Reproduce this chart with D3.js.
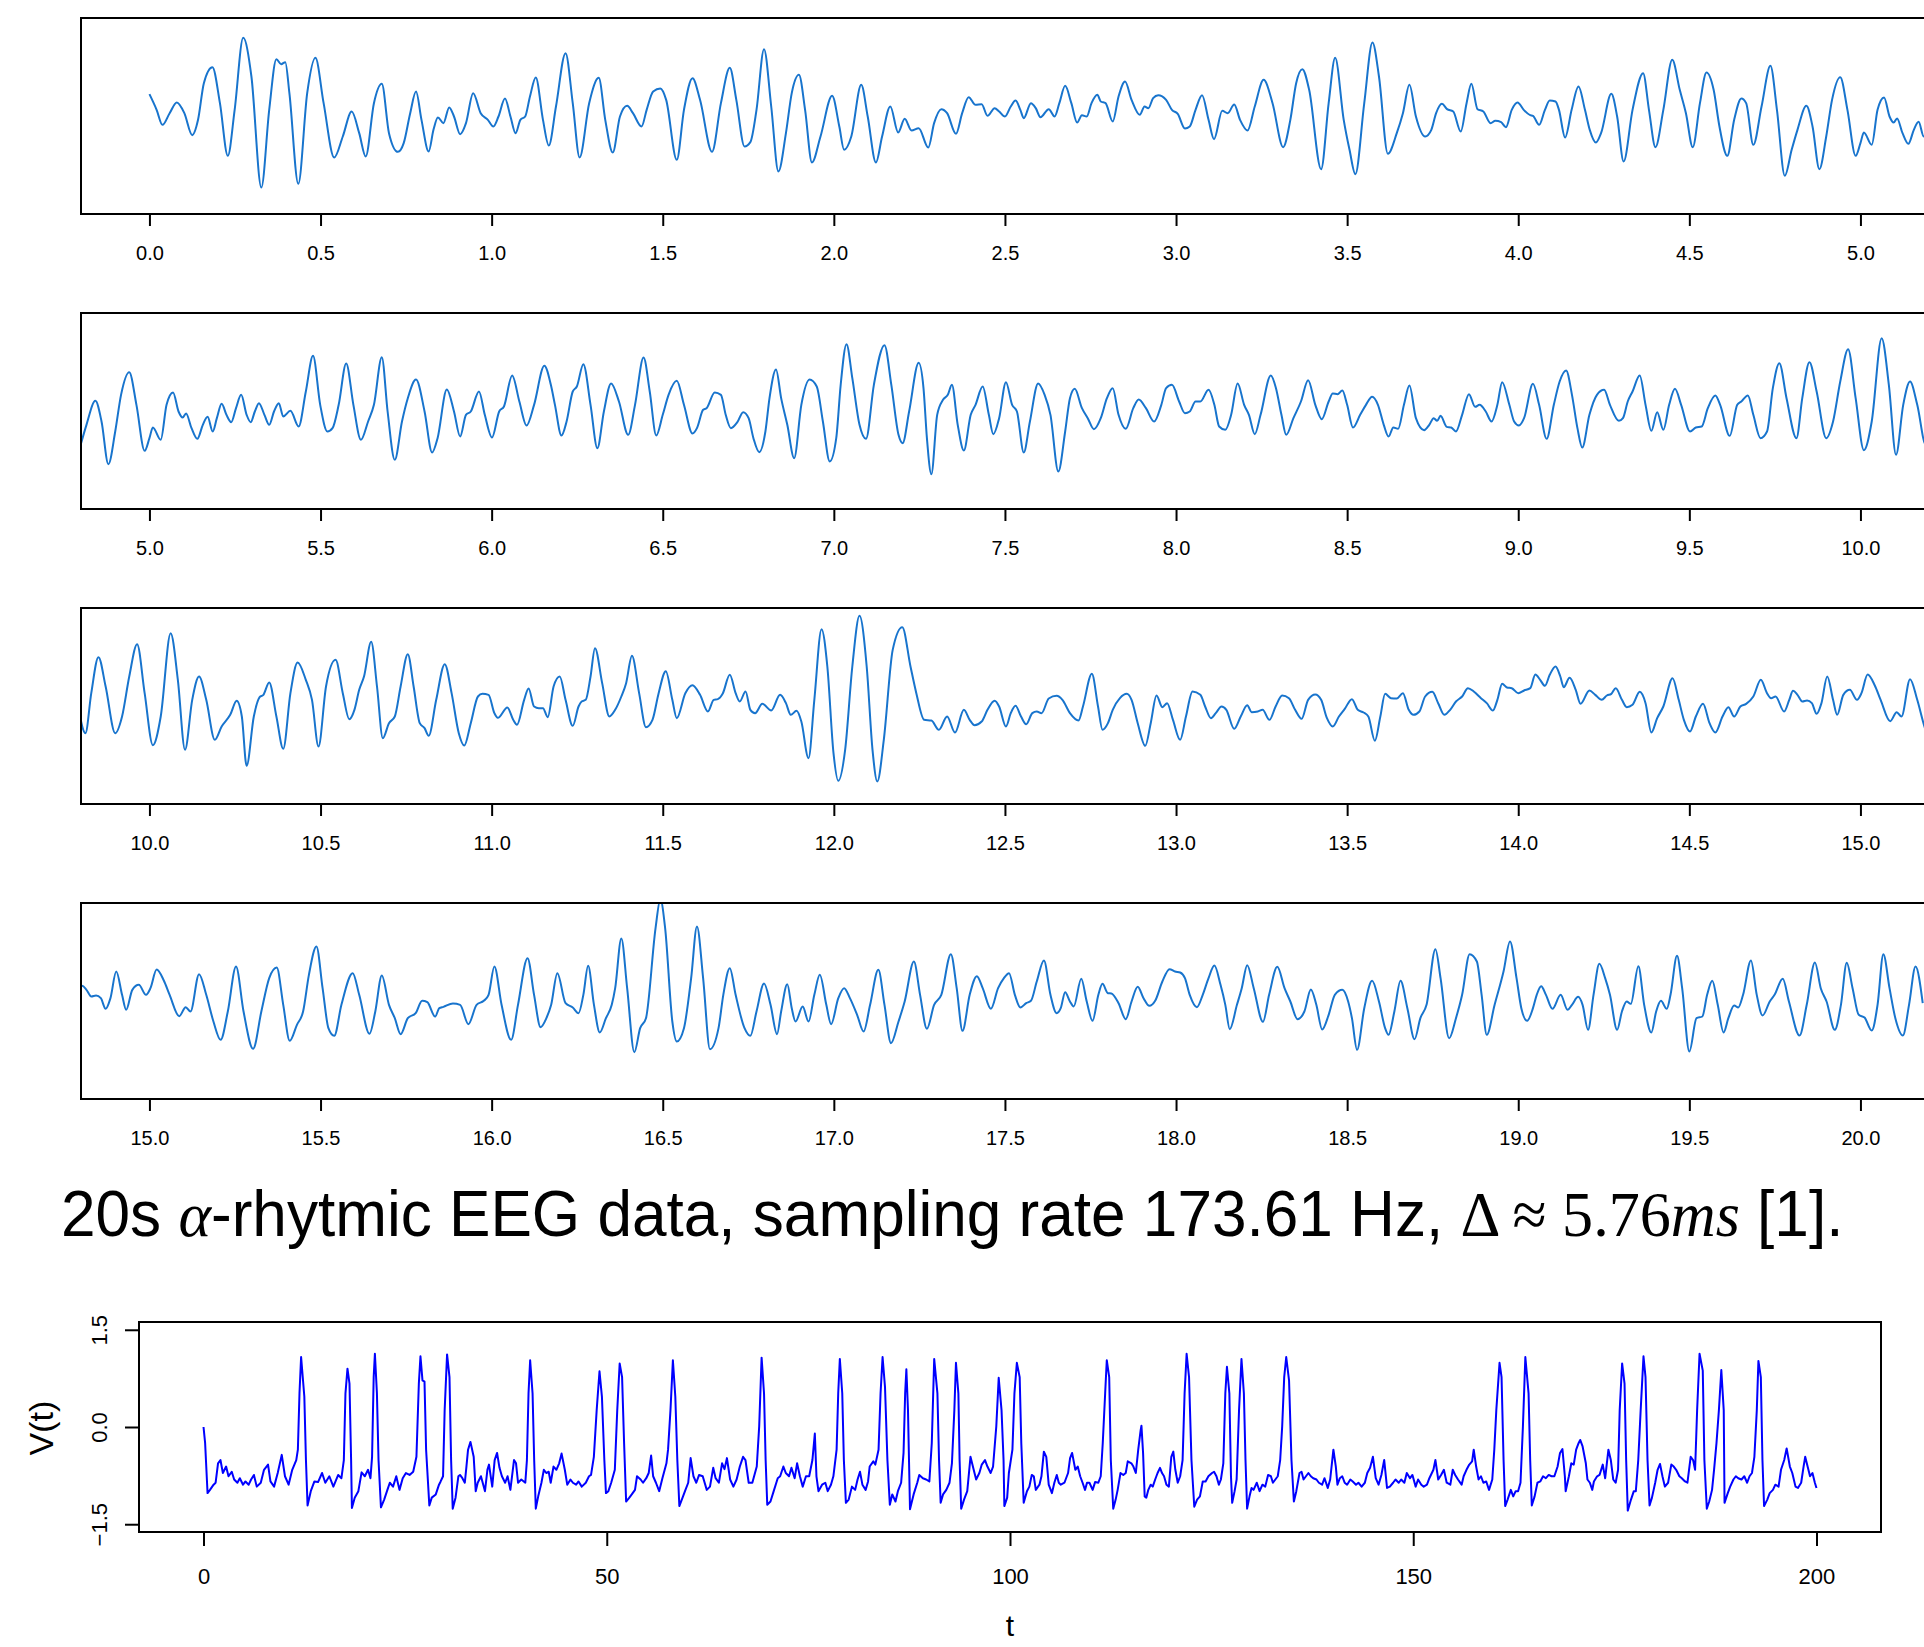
<!DOCTYPE html>
<html>
<head>
<meta charset="utf-8">
<script src="https://cdn.jsdelivr.net/npm/d3@7/dist/d3.min.js"></script>
<style>
  body { margin: 0; background: #ffffff; }
  svg { display: block; }
</style>
</head>
<body>
<svg id="svg"></svg>
<script>

// EEG alpha rhythm: [time in s, amplitude in arbitrary units]
let eegSeg1 = [[0,65],[0.021,18],[0.038,-27],[0.059,8],[0.080,40],[0.102,8],[0.125,-58],[0.142,-12],[0.159,98],[0.184,146],[0.206,38],[0.229,-120],[0.249,18],[0.274,234],[0.298,118],[0.327,-215],[0.350,18],[0.371,170],[0.385,155],[0.397,161],[0.409,68],[0.435,-204],[0.461,68],[0.485,174],[0.509,38],[0.540,-125],[0.565,-62],[0.591,13],[0.613,-52],[0.632,-122],[0.656,38],[0.679,96],[0.700,-52],[0.726,-108],[0.743,-82],[0.762,8],[0.779,73],[0.795,-12],[0.816,-107],[0.830,-42],[0.843,-5],[0.859,-22],[0.876,25],[0.890,-2],[0.908,-55],[0.925,-22],[0.946,68],[0.968,8],[0.989,-12],[1.005,-32],[1.020,-2],[1.039,52],[1.055,-2],[1.070,-52],[1.084,-12],[1.098,-2],[1.112,58],[1.129,115],[1.150,-12],[1.167,-89],[1.188,28],[1.216,188],[1.237,38],[1.257,-125],[1.285,38],[1.313,114],[1.332,-12],[1.354,-110],[1.375,-2],[1.396,30],[1.413,8],[1.438,-32],[1.453,18],[1.472,73],[1.493,82],[1.510,48],[1.541,-132],[1.562,18],[1.587,113],[1.609,48],[1.644,-108],[1.670,38],[1.696,144],[1.715,48],[1.739,-92],[1.756,-79],[1.774,18],[1.796,200],[1.817,28],[1.838,-167],[1.860,-52],[1.877,68],[1.898,123],[1.916,18],[1.936,-140],[1.961,-62],[1.995,60],[2.016,-32],[2.030,-102],[2.051,-62],[2.080,93],[2.099,-2],[2.123,-140],[2.141,-62],[2.165,28],[2.188,-50],[2.207,-9],[2.227,-44],[2.248,-37],[2.276,-95],[2.293,-22],[2.314,20],[2.331,8],[2.357,-54],[2.375,8],[2.394,56],[2.414,33],[2.432,35],[2.449,0],[2.470,23],
  [2.483,13],[2.500,-2],[2.517,28],[2.531,46],[2.545,18],[2.555,-7],[2.576,38],[2.590,23],[2.604,-4],[2.628,20],[2.645,-2],[2.659,38],[2.676,90],[2.694,38],[2.711,-20],[2.725,2],[2.739,-2],[2.753,38],[2.770,63],[2.780,43],[2.794,38],[2.815,-17],[2.832,58],[2.851,103],[2.870,48],[2.894,3],[2.908,28],[2.919,23],[2.933,53],[2.948,62],[2.971,48],[2.988,18],[3.005,6],[3.026,-38],[3.040,-32],[3.057,18],[3.076,62],[3.095,-12],[3.111,-70],[3.135,15],[3.151,8],[3.170,34],[3.187,-12],[3.209,-44],[3.230,28],[3.256,108],[3.282,38],[3.313,-94],[3.334,-12],[3.351,98],[3.369,140],[3.389,78],[3.424,-160],[3.446,38],[3.465,174],[3.490,-12],[3.507,-102],[3.524,-175],[3.550,38],[3.574,220],[3.593,118],[3.619,-114],[3.645,-52],[3.663,8],[3.682,93],[3.701,-2],[3.728,-62],[3.746,-42],[3.760,8],[3.777,36],[3.792,20],[3.810,13],[3.832,-47],[3.849,38],[3.863,96],[3.881,20],[3.898,13],[3.919,-22],[3.933,-15],[3.950,-19],[3.964,-34],[3.981,18],[3.998,40],[4.016,18],[4.035,2],[4.043,0],[4.061,-27],[4.078,18],[4.092,46],[4.109,43],[4.119,18],[4.137,-65],[4.156,18],[4.176,88],[4.195,18],[4.209,-42],[4.227,-80],[4.242,-52],[4.272,66],[4.289,-2],[4.308,-137],[4.334,18],[4.365,128],[4.382,18],[4.401,-94],[4.424,18],[4.450,168],[4.472,78],[4.490,8],[4.510,-94],[4.531,38],[4.550,130],[4.571,78],[4.588,-32],[4.611,-120],[4.631,-12],[4.652,52],[4.666,38],[4.687,-87],[4.711,28],[4.737,150],[4.756,18],[4.779,-180]];

let eegSeg2 = [[4.799,-102],[4.816,-42],[4.842,30],[4.860,-32],[4.880,-160],[4.900,-62],[4.917,48],[4.941,116],[4.962,18],[4.986,-120],[5.000,-82],[5.010,-50],[5.033,-87],[5.050,18],[5.069,55],[5.085,-2],[5.097,-20],[5.107,-8],[5.123,-52],[5.140,-84],[5.156,-42],[5.170,-18],[5.185,-62],[5.197,-22],[5.211,21],[5.225,-12],[5.239,-34],[5.253,8],[5.268,48],[5.284,-12],[5.296,-34],[5.308,-2],[5.320,23],[5.336,-12],[5.350,-42],[5.364,-2],[5.378,23],[5.391,-17],[5.412,0],[5.436,-47],[5.457,58],[5.478,165],[5.499,18],[5.520,-62],[5.535,-52],[5.553,18],[5.575,142],[5.596,18],[5.618,-87],[5.639,-32],[5.656,18],[5.679,161],[5.696,-2],[5.717,-147],[5.738,-32],[5.755,38],[5.779,94],[5.804,-2],[5.826,-125],[5.842,-82],[5.869,64],[5.890,-2],[5.908,-77],[5.925,-12],[5.939,-2],[5.963,58],[5.980,-12],[6.001,-80],[6.022,-2],[6.036,13],[6.060,106],[6.081,28],[6.102,-44],[6.124,18],[6.154,135],[6.173,78],[6.185,18],[6.204,-74],[6.219,-32],[6.237,58],[6.249,73],[6.268,140],[6.289,18],[6.309,-112],[6.328,-2],[6.349,82],[6.372,28],[6.399,-72],[6.419,18],[6.444,160],[6.462,58],[6.481,-74],[6.500,-12],[6.517,48],[6.541,90],[6.562,18],[6.587,-68],[6.600,-52],[6.618,3],[6.628,8],[6.652,55],[6.670,48],[6.684,-12],[6.699,-52],[6.718,-34],[6.735,-4],[6.751,-22],[6.765,-82],[6.782,-124],[6.800,-62],[6.812,38],[6.831,124],[6.846,38],[6.864,-42],[6.884,-142],[6.905,18],[6.929,94],[6.950,73],[6.968,-32],[6.988,-152],[7.007,-82],[7.020,78],[7.037,200],[7.054,98],[7.075,-42],[7.094,-84],[7.117,78],[7.148,197],[7.168,78],[7.189,-72],[7.201,-97],[7.220,-2],[7.248,144],[7.262,68],[7.272,-82],[7.285,-190],[7.302,-12],[7.319,33],[7.333,48],[7.345,78],[7.362,-42],[7.380,-119],[7.400,-12],[7.414,18],[7.435,73],[7.453,-12],[7.466,-70],
  [7.483,-22],[7.503,86],[7.521,18],[7.535,-2],[7.555,-125],[7.573,-32],[7.597,82],[7.616,48],[7.633,-12],[7.656,-182],[7.676,-62],[7.690,38],[7.704,66],[7.725,8],[7.742,-22],[7.760,-55],[7.780,-22],[7.798,38],[7.815,68],[7.832,-12],[7.853,-54],[7.875,8],[7.891,34],[7.912,8],[7.936,-32],[7.957,18],[7.971,68],[7.988,78],[8.009,28],[8.026,-7],[8.040,-2],[8.057,28],[8.071,28],[8.095,63],[8.112,18],[8.126,-47],[8.144,-57],[8.161,-12],[8.180,82],[8.199,18],[8.213,-12],[8.230,-70],[8.247,-12],[8.277,106],[8.292,68],[8.308,-12],[8.322,-72],[8.343,-22],[8.365,28],[8.386,92],[8.407,18],[8.426,-25],[8.446,28],[8.458,52],[8.472,50],[8.486,61],[8.500,18],[8.517,-50],[8.538,-12],[8.555,18],[8.573,42],[8.590,18],[8.607,-42],[8.621,-77],[8.635,-50],[8.649,-54],[8.666,18],[8.682,76],[8.701,-22],[8.725,-58],[8.740,-42],[8.753,-22],[8.763,-30],[8.773,-15],[8.791,-48],[8.804,-50],[8.818,-62],[8.836,-12],[8.856,50],[8.874,12],[8.887,18],[8.905,-2],[8.922,-32],[8.939,18],[8.953,86],[8.974,18],[8.988,-32],[9.002,-44],[9.017,-22],[9.043,81],[9.061,18],[9.083,-84],[9.104,18],[9.121,88],[9.140,121],[9.157,48],[9.173,-52],[9.187,-110],[9.208,-12],[9.230,48],[9.251,63],[9.268,18],[9.294,-30],[9.306,-22],[9.320,28],[9.334,58],[9.355,106],[9.372,18],[9.389,-60],[9.406,-4],[9.424,-57],[9.441,18],[9.458,66],[9.476,18],[9.502,-62],[9.519,-50],[9.536,-47],[9.554,8],[9.576,46],[9.590,18],[9.618,-75],[9.640,18],[9.652,28],[9.671,46],[9.687,-12],[9.708,-82],[9.727,-62],[9.744,68],[9.763,143],[9.784,38]];

let eegSeg3 = [[9.813,-82],[9.830,38],[9.851,146],[9.872,58],[9.900,-82],[9.920,-32],[9.941,88],[9.964,185],[9.986,38],[10.010,-118],[10.033,-32],[10.062,218],[10.083,78],[10.104,-132],[10.125,18],[10.145,88],[10.166,18],[10.191,-102],[10.211,-62],[10.236,-27],[10.255,15],[10.270,-32],[10.284,-180],[10.305,-32],[10.322,26],[10.333,33],[10.350,70],[10.371,-32],[10.391,-129],[10.412,38],[10.433,130],[10.457,78],[10.475,18],[10.494,-122],[10.516,58],[10.544,138],[10.565,38],[10.584,-40],[10.599,-12],[10.613,48],[10.627,88],[10.648,192],[10.665,58],[10.682,-97],[10.700,-52],[10.717,-32],[10.734,58],[10.755,155],[10.772,58],[10.790,-52],[10.804,-67],[10.816,-90],[10.838,18],[10.863,125],[10.883,38],[10.904,-82],[10.920,-119],[10.939,-52],[10.960,28],[10.973,36],[10.991,33],[11.008,-22],[11.018,-36],[11.046,-5],[11.063,-42],[11.074,-57],[11.095,18],[11.108,52],[11.124,-2],[11.138,-7],[11.150,-7],[11.164,-34],[11.181,58],[11.199,88],[11.216,18],[11.237,-60],[11.254,-2],[11.263,13],[11.275,18],[11.289,88],[11.302,173],[11.323,68],[11.344,-32],[11.361,-12],[11.379,28],[11.393,68],[11.410,150],[11.431,38],[11.451,-64],[11.470,-42],[11.488,38],[11.509,104],[11.528,18],[11.541,-37],[11.566,38],[11.587,62],[11.609,33],[11.632,-17],[11.649,18],[11.661,20],[11.675,36],[11.696,93],[11.713,38],[11.725,13],[11.742,43],[11.756,-12],[11.770,-22],[11.791,6],[11.817,-14],[11.843,33],[11.860,8],[11.874,-27],[11.891,-15],[11.905,-47],[11.926,-157],[11.943,18],[11.964,230],[11.981,118],[11.999,-142],[12.013,-225],[12.033,-132],[12.054,118],[12.075,270],[12.096,118],[12.113,-132],[12.127,-227],[12.146,-102],[12.172,168],[12.200,236],[12.224,118],[12.241,38],[12.264,-42],[12.285,-44],[12.307,-72],[12.331,-32],[12.354,-80],[12.380,-12],[12.397,-42],[12.411,-58],[12.432,-47],[12.449,-12],[12.470,15],
  [12.483,-2],[12.503,-62],[12.517,-22],[12.531,0],[12.547,-32],[12.562,-55],[12.580,-22],[12.593,-17],[12.607,-22],[12.628,22],[12.651,30],[12.668,18],[12.690,-22],[12.715,-44],[12.728,-2],[12.754,96],[12.772,-2],[12.785,-72],[12.801,-52],[12.815,-12],[12.836,23],[12.856,36],[12.870,18],[12.888,-52],[12.910,-120],[12.926,-52],[12.943,31],[12.960,-4],[12.974,8],[12.991,-42],[13.012,-102],[13.029,-32],[13.048,43],[13.071,33],[13.085,-2],[13.102,-37],[13.116,-22],[13.133,-2],[13.147,-12],[13.170,-69],[13.189,-32],[13.208,2],[13.221,-19],[13.239,-17],[13.253,-12],[13.273,-42],[13.291,-2],[13.310,31],[13.330,23],[13.348,-12],[13.367,-39],[13.386,18],[13.407,34],[13.424,18],[13.441,-37],[13.458,-62],[13.476,-32],[13.493,-9],[13.514,20],[13.531,-12],[13.548,-20],[13.562,-32],[13.581,-105],[13.597,-32],[13.611,36],[13.628,23],[13.645,22],[13.663,38],[13.680,-12],[13.694,-27],[13.711,-17],[13.728,28],[13.749,42],[13.766,8],[13.784,-27],[13.801,-12],[13.818,13],[13.836,28],[13.853,53],[13.870,43],[13.891,23],[13.908,8],[13.926,-14],[13.939,18],[13.953,66],[13.967,55],[13.981,53],[14.000,38],[14.017,46],[14.035,53],[14.050,94],[14.064,78],[14.078,60],[14.092,93],[14.109,118],[14.123,88],[14.133,56],[14.150,84],[14.168,48],[14.182,6],[14.208,46],[14.225,33],[14.244,18],[14.259,31],[14.272,36],[14.285,53],[14.303,18],[14.317,-4],[14.334,3],[14.355,42],[14.372,8],[14.389,-80],[14.406,-37],[14.424,-2],[14.451,83],[14.469,18],[14.484,-42],[14.502,-77],[14.519,-32],[14.540,6],[14.559,-52],[14.576,-80],[14.597,-32],[14.614,-4],[14.631,-32],[14.649,-2],[14.666,6],[14.687,28],[14.709,78],[14.727,38],[14.739,23],[14.752,28],[14.777,-17],[14.792,18]];

let eegSeg4 = [[14.803,45],[14.816,33],[14.830,13],[14.844,16],[14.858,8],[14.872,-24],[14.886,8],[14.903,88],[14.920,18],[14.932,-27],[14.950,33],[14.969,48],[14.990,18],[15.003,38],[15.021,94],[15.042,61],[15.059,18],[15.087,-46],[15.106,-19],[15.120,-32],[15.145,80],[15.166,18],[15.187,-62],[15.208,-117],[15.229,-32],[15.253,103],[15.275,-32],[15.303,-144],[15.327,-32],[15.350,68],[15.372,100],[15.391,-12],[15.410,-120],[15.431,-72],[15.449,-32],[15.466,78],[15.488,163],[15.506,38],[15.523,-82],[15.540,-105],[15.561,-12],[15.594,83],[15.613,18],[15.643,-99],[15.660,-32],[15.679,76],[15.700,-12],[15.717,-52],[15.734,-100],[15.755,-52],[15.778,-37],[15.797,0],[15.812,-4],[15.835,-47],[15.847,-22],[15.859,-18],[15.887,-8],[15.908,-12],[15.932,-70],[15.956,-12],[15.977,0],[15.991,18],[16.008,103],[16.029,-12],[16.057,-117],[16.077,-12],[16.105,128],[16.124,18],[16.143,-79],[16.160,-52],[16.174,-12],[16.192,83],[16.216,-7],[16.237,-20],[16.254,-37],[16.268,18],[16.282,105],[16.299,-12],[16.316,-95],[16.334,-52],[16.351,-12],[16.361,38],[16.379,187],[16.396,38],[16.417,-154],[16.434,-82],[16.451,-52],[16.479,218],[16.493,305],[16.507,218],[16.528,-62],[16.541,-122],[16.562,-82],[16.583,68],[16.600,223],[16.618,68],[16.638,-145],[16.663,-82],[16.677,18],[16.696,98],[16.713,18],[16.739,-82],[16.756,-105],[16.774,-32],[16.796,52],[16.815,-12],[16.834,-100],[16.846,-32],[16.864,50],[16.877,-22],[16.888,-62],[16.909,-17],[16.926,-62],[16.943,18],[16.959,78],[16.978,-12],[16.992,-70],[17.013,8],[17.030,38],[17.047,8],[17.068,-42],[17.087,-92],[17.106,-12],[17.130,93],[17.148,-12],[17.167,-127],[17.189,-62],[17.207,-2],[17.234,118],[17.252,18],[17.272,-84],[17.293,-12],[17.314,18],[17.342,140],[17.359,38],[17.376,-90],[17.397,18],[17.418,74],[17.435,38],[17.459,-24],[17.480,38],
  [17.497,68],[17.512,83],[17.529,18],[17.545,-20],[17.562,-7],[17.576,0],[17.593,58],[17.614,121],[17.633,18],[17.651,-37],[17.663,-22],[17.676,26],[17.690,-2],[17.701,-17],[17.723,66],[17.739,-2],[17.756,-60],[17.773,18],[17.785,51],[17.801,23],[17.811,22],[17.832,-7],[17.853,-55],[17.870,-2],[17.888,42],[17.905,8],[17.922,-15],[17.939,0],[17.960,58],[17.981,95],[17.997,88],[18.012,85],[18.026,68],[18.040,18],[18.061,-19],[18.078,18],[18.095,68],[18.112,106],[18.130,48],[18.144,-12],[18.157,-85],[18.178,-12],[18.192,38],[18.208,107],[18.227,38],[18.254,-63],[18.272,18],[18.296,102],[18.317,38],[18.334,-2],[18.355,-55],[18.375,-32],[18.394,34],[18.410,-12],[18.427,-86],[18.446,-42],[18.464,18],[18.486,33],[18.503,-2],[18.514,-52],[18.529,-147],[18.550,-22],[18.573,60],[18.593,-2],[18.611,-82],[18.621,-102],[18.638,-32],[18.656,60],[18.676,-22],[18.697,-115],[18.714,-52],[18.732,-12],[18.758,155],[18.773,68],[18.798,-112],[18.818,-52],[18.836,18],[18.858,140],[18.879,118],[18.893,18],[18.908,-102],[18.931,-12],[18.957,88],[18.976,178],[18.995,68],[19.009,-22],[19.026,-60],[19.043,-22],[19.054,18],[19.067,44],[19.081,18],[19.100,-24],[19.124,18],[19.144,-27],[19.157,-12],[19.175,12],[19.188,-12],[19.204,-87],[19.220,18],[19.237,111],[19.254,68],[19.268,18],[19.289,-87],[19.303,-32],[19.317,-2],[19.329,-9],[19.351,104],[19.368,-12],[19.389,-95],[19.403,-32],[19.417,0],[19.434,-24],[19.445,18],[19.464,135],[19.479,38],[19.500,-152],[19.521,-52],[19.538,-47],[19.552,18],[19.567,60],[19.583,-12],[19.600,-95],[19.614,-52],[19.631,-14],[19.643,-20],[19.657,18],[19.680,121],[19.697,18],[19.714,-44],[19.735,-2],[19.749,18],[19.773,66],[19.791,-2],[19.822,-104],[19.843,-12],[19.867,115],[19.884,38],[19.901,-2],[19.925,-87],[19.943,-12],[19.960,114],[19.977,38],[19.995,-42],[20.012,-50],[20.033,-89],[20.050,-12],[20.067,140],[20.085,38],[20.102,-52],[20.124,-104],[20.142,-12],[20.161,103],[20.182,-7]];

// V(t) trace of the lower plot: [t, V]
let vTrace1 = [[0,0],[0.2,-0.25],[0.5,-1.02],[0.8,-0.97],[1.25,-0.89],[1.5,-0.86],[1.8,-0.56],[2.1,-0.51],[2.4,-0.71],[2.8,-0.61],[3.1,-0.76],[3.5,-0.69],[3.8,-0.81],[4.2,-0.86],[4.5,-0.79],[4.9,-0.89],[5.2,-0.84],[5.6,-0.89],[5.9,-0.81],[6.25,-0.74],[6.6,-0.92],[7.1,-0.86],[7.5,-0.66],[8.0,-0.58],[8.3,-0.84],[8.75,-0.92],[9.2,-0.71],[9.7,-0.43],[10.1,-0.76],[10.55,-0.89],[11.0,-0.66],[11.5,-0.51],[11.7,-0.35],[11.9,0.52],[12.1,1.08],[12.5,0.47],[12.7,-0.51],[12.9,-1.21],[13.3,-0.99],[13.75,-0.84],[14.2,-0.85],[14.7,-0.71],[15.1,-0.86],[15.6,-0.76],[16.1,-0.92],[16.7,-0.74],[17.1,-0.79],[17.4,-0.51],[17.6,0.52],[17.85,0.90],[18.1,0.67],[18.3,-0.51],[18.4,-1.25],[18.75,-1.09],[19.2,-0.99],[19.6,-0.70],[20.0,-0.76],[20.4,-0.66],[20.7,-0.79],[20.9,-0.46],[21.1,0.77],[21.25,1.13],[21.5,0.52],[21.7,-0.51],[22.0,-1.24],[22.4,-1.12],[22.8,-0.97],[23.1,-0.86],[23.5,-0.92],[23.9,-0.76],[24.3,-0.97],[24.7,-0.79],[25.1,-0.71],[25.55,-0.74],[26.0,-0.69],[26.4,-0.46],[26.7,0.67],[26.9,1.09],[27.15,0.72],[27.4,0.70],[27.6,-0.35],[28.0,-1.21],[28.3,-1.09],[28.8,-1.04],[29.2,-0.89],[29.4,-0.84],[29.7,-0.76],[29.9,0.26],[30.2,1.12],[30.5,0.77],[30.7,-0.51],[30.9,-1.26],[31.25,-1.09],[31.6,-0.76],[31.8,-0.74],[32.1,-0.79],[32.4,-0.86],[32.6,-0.61],[32.8,-0.35],[33.1,-0.23],[33.5,-0.46],[33.75,-0.99],[34.0,-0.86],[34.4,-0.76],[34.9,-0.99],[35.2,-0.66],[35.4,-0.58],[35.8,-0.92],[36.1,-0.51],[36.4,-0.40],[36.7,-0.63],[37.0,-0.76],[37.4,-0.86],[37.7,-0.76],[38.05,-0.97],[38.5,-0.51],[38.75,-0.56],[39.0,-0.86],[39.4,-0.81],[39.9,-0.86],[40.1,-0.51],[40.3,0.52],[40.5,1.03],[40.8,0.52],[41.0,-0.51],[41.2,-1.26],[41.5,-1.07],[41.9,-0.86],[42.2,-0.66],[42.5,-0.71],[42.8,-0.69],[43.05,-0.86],[43.4,-0.61],[43.75,-0.66],[44.1,-0.56],[44.4,-0.41],[44.8,-0.66],[45.1,-0.89],[45.5,-0.81],[45.8,-0.86],[46.2,-0.89],[46.5,-0.84],[46.9,-0.92],[47.4,-0.86],[47.8,-0.76],[48.05,-0.74],[48.4,-0.46],[48.75,0.26],[49.1,0.86],[49.4,0.47],[49.7,-0.51],[49.9,-1.02],[50.2,-0.99],[50.55,-0.86],[51.0,-0.66],[51.3,0.26],[51.6,0.98],[51.9,0.77],[52.15,-0.25],[52.4,-1.15],[52.8,-1.09],[53.1,-1.04],[53.5,-0.97],[53.75,-0.76],[54.2,-0.81],[54.5,-0.86],[54.9,-0.79],[55.2,-0.71],[55.5,-0.44],[55.75,-0.76],[56.1,-0.86],[56.5,-0.99],[56.9,-0.79],[57.4,-0.56],[57.6,-0.35],[57.9,0.26],[58.2,1.03],[58.5,0.47],[58.75,-0.51],[59.0,-1.22],[59.4,-1.09],[59.7,-0.99],[60.1,-0.86],[60.4,-0.48],[60.75,-0.76],[61.1,-0.86],[61.45,-0.74],[61.9,-0.76],[62.4,-0.97],[62.8,-0.92],[63.2,-0.63],[63.5,-0.79],[63.9,-0.86],[64.3,-0.56],[64.6,-0.65],[64.9,-0.48],[65.3,-0.81],[65.7,-0.92],[66.1,-0.81],[66.5,-0.61],[66.9,-0.46],[67.2,-0.51],[67.6,-0.86],[68.05,-0.86],[68.6,-0.61],[68.9,0.01],[69.2,1.07],[69.5,0.52],[69.7,-0.51],[69.9,-1.20],[70.3,-1.15],[70.7,-0.99],[71.2,-0.79],[71.5,-0.76],[71.9,-0.61],[72.2,-0.71],[72.6,-0.76],[72.9,-0.63],[73.3,-0.79],[73.6,-0.56],[73.95,-0.76],[74.3,-0.92],[74.7,-0.76],[75.1,-0.76],[75.5,-0.51],[75.8,-0.10],[76.0,-0.76],[76.25,-0.99],[76.7,-0.89],[77.1,-0.86],[77.4,-0.99],[77.8,-0.89],[78.1,-0.76],[78.5,-0.35],[78.7,0.52],[78.9,1.05],[79.2,0.52],[79.4,-0.51],[79.65,-1.17],[80.0,-1.12],[80.4,-0.92],[80.8,-0.97],[81.1,-0.81],[81.4,-0.69],[81.7,-0.89],[82.1,-0.97],[82.4,-0.84],[82.6,-0.61],[83.05,-0.53],[83.3,-0.58],[83.7,-0.35],[83.95,0.52],[84.2,1.08],[84.5,0.62],[84.8,-0.51],[85.1,-1.20],[85.4,-1.04],[85.8,-1.15],[86.1,-0.99],[86.5,-0.86],[86.8,-0.40],[87.0,0.52],[87.15,0.89],[87.35,0.26],[87.6,-1.27],[88.05,-1.04],[88.5,-0.86],[88.75,-0.74],[89.2,-0.79],[89.6,-0.81],[90.0,-0.84],[90.3,-0.25],[90.6,1.05],[91.0,0.52],[91.2,-0.51],[91.4,-1.17],[91.7,-1.04],[92.1,-0.97],[92.5,-0.86],[92.8,-0.56],[93.1,0.26],[93.3,0.99],[93.6,0.52],[93.75,-0.51],[93.95,-1.26],[94.3,-1.12],[94.7,-0.99],[95.1,-0.46],[95.5,-0.66],[95.8,-0.81],[96.2,-0.71],[96.5,-0.58],[96.9,-0.51],[97.2,-0.61],[97.6,-0.71],[97.9,-0.61],[98.3,0.01],[98.6,0.76],[98.95,0.26],[99.2,-0.51],[99.3,-1.22],[99.65,-1.09]];

let vTrace2 = [[99.86,-0.71],[100.3,-0.35],[100.55,0.52],[100.85,0.99],[101.2,0.77],[101.4,-0.25],[101.7,-1.17],[102.1,-0.99],[102.4,-0.92],[102.7,-0.74],[102.95,-0.76],[103.2,-0.97],[103.65,-0.89],[103.9,-0.76],[104.2,-0.38],[104.5,-0.46],[104.8,-0.89],[105.2,-1.02],[105.5,-0.86],[105.8,-0.74],[106.05,-0.86],[106.3,-0.89],[106.75,-0.86],[107.2,-0.71],[107.45,-0.48],[107.7,-0.40],[108.1,-0.66],[108.4,-0.61],[108.7,-0.76],[109.0,-0.86],[109.3,-0.97],[109.55,-0.86],[109.85,-0.86],[110.25,-0.97],[110.55,-0.85],[110.95,-0.86],[111.25,-0.76],[111.5,-0.25],[111.8,0.52],[112.0,1.03],[112.3,0.77],[112.5,-0.51],[112.8,-1.26],[113.1,-1.12],[113.35,-0.97],[113.7,-0.71],[114.05,-0.74],[114.35,-0.71],[114.6,-0.53],[115.05,-0.56],[115.3,-0.61],[115.6,-0.71],[115.9,-0.35],[116.2,-0.05],[116.3,0.02],[116.5,-0.40],[116.7,-1.07],[116.9,-1.09],[117.15,-0.97],[117.45,-0.89],[117.7,-0.92],[118.0,-0.81],[118.3,-0.71],[118.6,-0.63],[118.85,-0.71],[119.1,-0.76],[119.4,-0.89],[119.7,-0.92],[120.0,-0.46],[120.25,-0.38],[120.5,-0.66],[120.8,-0.86],[121.1,-0.76],[121.4,-0.51],[121.65,0.52],[121.9,1.13],[122.2,0.77],[122.5,-0.51],[122.85,-1.23],[123.2,-1.12],[123.55,-1.07],[123.9,-0.84],[124.25,-0.84],[124.6,-0.76],[125.05,-0.71],[125.3,-0.69],[125.6,-0.76],[125.9,-0.89],[126.15,-0.81],[126.45,-0.56],[126.7,0.52],[126.9,0.93],[127.2,0.52],[127.4,-0.76],[127.55,-1.17],[127.85,-0.99],[128.1,-0.81],[128.4,0.26],[128.7,1.05],[129.0,0.52],[129.2,-0.51],[129.4,-1.26],[129.7,-1.07],[129.95,-0.94],[130.2,-0.97],[130.6,-0.86],[130.95,-0.99],[131.3,-0.89],[131.65,-0.92],[132.0,-0.74],[132.35,-0.76],[132.6,-0.86],[132.9,-0.81],[133.2,-0.76],[133.5,-0.51],[133.75,0.01],[134.0,0.77],[134.25,1.08],[134.6,0.72],[134.9,-0.51],[135.2,-1.15],[135.5,-0.99],[135.9,-0.71],[136.15,-0.69],[136.4,-0.81],[136.7,-0.76],[137.0,-0.71],[137.3,-0.76],[137.6,-0.79],[138.0,-0.81],[138.3,-0.86],[138.7,-0.89],[139.0,-0.79],[139.4,-0.94],[139.7,-0.81],[140.1,-0.35],[140.4,-0.61],[140.6,-0.89],[140.9,-0.79],[141.2,-0.76],[141.5,-0.86],[141.8,-0.89],[142.2,-0.81],[142.5,-0.84],[142.9,-0.89],[143.2,-0.86],[143.6,-0.92],[144.0,-0.86],[144.3,-0.71],[144.65,-0.63],[145.0,-0.46],[145.35,-0.79],[145.7,-0.89],[146.05,-0.74],[146.4,-0.51],[146.75,-0.94],[147.1,-0.92],[147.5,-0.86],[147.8,-0.81],[148.2,-0.86],[148.5,-0.81],[148.9,-0.86],[149.2,-0.71],[149.6,-0.79],[149.9,-0.74],[150.3,-0.92],[150.6,-0.81],[151.0,-0.89],[151.3,-0.92],[151.7,-0.89],[152.0,-0.79],[152.5,-0.66],[152.75,-0.51],[153.1,-0.81],[153.45,-0.74],[153.8,-0.66],[154.15,-0.86],[154.6,-0.89],[154.9,-0.66],[155.2,-0.74],[155.55,-0.81],[156.0,-0.89],[156.25,-0.76],[156.6,-0.66],[156.95,-0.58],[157.3,-0.53],[157.5,-0.35],[157.8,-0.61],[158.1,-0.81],[158.4,-0.76],[158.7,-0.86],[159.05,-0.84],[159.4,-0.97],[159.8,-0.81],[160.05,-0.35],[160.3,0.26],[160.7,0.99],[160.95,0.77],[161.2,-0.51],[161.4,-1.22],[161.7,-1.12],[162.1,-0.97],[162.4,-1.07],[162.7,-0.99],[163.0,-0.99],[163.3,-0.86],[163.6,0.01],[163.9,1.08],[164.3,0.52],[164.5,-0.51],[164.7,-1.21],[165.05,-1.07],[165.4,-0.86],[165.75,-0.84],[166.1,-0.76],[166.45,-0.79],[166.8,-0.74],[167.15,-0.76],[167.5,-0.76],[167.9,-0.61],[168.2,-0.40],[168.5,-0.34],[168.8,-0.76],[168.9,-0.99],[169.3,-0.76],[169.6,-0.56],[169.9,-0.58],[170.2,-0.35],[170.5,-0.25],[170.7,-0.20],[171.0,-0.30],[171.4,-0.56],[171.6,-0.81],[171.9,-0.86],[172.2,-0.97],[172.4,-0.84],[172.8,-0.76],[173.1,-0.74],[173.5,-0.58],[173.8,-0.79],[174.2,-0.35],[174.5,-0.51],[174.8,-0.81],[175.1,-0.86],[175.4,-0.66],[175.6,0.26],[175.9,0.98],[176.2,0.67],[176.4,-0.51],[176.6,-1.29],[177.0,-1.12],[177.35,-0.99],[177.6,-0.99],[177.9,-0.51],[178.2,0.26],[178.55,1.09],[178.8,0.77],[179.05,-0.51],[179.3,-1.21],[179.6,-1.09],[180.0,-0.86],[180.3,-0.66],[180.6,-0.57],[180.9,-0.76],[181.2,-0.92],[181.6,-0.86],[182.0,-0.58],[182.3,-0.61],[182.6,-0.66],[183.0,-0.76],[183.3,-0.79],[183.7,-0.84],[184.0,-0.86],[184.4,-0.46],[184.7,-0.51],[184.95,-0.66],[185.2,0.26],[185.5,1.13],[185.9,0.87],[186.1,-0.51],[186.4,-1.26],[186.7,-1.15],[187.05,-0.97],[187.3,-0.66],[187.6,-0.25],[187.9,0.26],[188.2,0.88],[188.5,0.26],[188.6,-1.17],[189.0,-1.02],[189.3,-0.92],[189.7,-0.81],[190.0,-0.76],[190.3,-0.79],[190.7,-0.81],[191.05,-0.76],[191.4,-0.86],[191.7,-0.76],[192.0,-0.71],[192.3,-0.46],[192.6,0.26],[192.8,1.02],[193.1,0.77],[193.3,-0.51],[193.5,-1.22],[193.9,-1.12],[194.2,-1.02],[194.6,-0.97],[194.9,-0.89],[195.3,-0.92],[195.6,-0.66],[196.0,-0.51],[196.3,-0.33],[196.7,-0.61],[197.0,-0.71],[197.4,-0.92],[197.7,-0.94],[198.1,-0.86],[198.4,-0.61],[198.6,-0.46],[199.0,-0.66],[199.2,-0.76],[199.5,-0.71],[199.8,-0.86],[200.0,-0.94]];

let panelStarts = [0, 5, 10, 15];
let panelTickOffsets = [0, 0.5, 1, 1.5, 2, 2.5, 3, 3.5, 4, 4.5, 5];
let vTicksX = [0, 50, 100, 150, 200];
let vTicksY = [-1.5, 0, 1.5];

const width = 1924;
const height = 1647;

const eegColour = "#1874cd";
const traceColour = "#0000ff";
const axisFont = "'Liberation Sans', Arial, Helvetica, sans-serif";
const mathFont = "'Liberation Serif', 'DejaVu Serif', serif";

let svg = d3.select("#svg")
    .attr("width", width)
    .attr("height", height)
    .attr("viewBox", `0 0 ${width} ${height}`);

svg.append("rect").attr("width", width).attr("height", height).attr("fill", "white");

let eeg = eegSeg1.concat(eegSeg2, eegSeg3, eegSeg4);

// four strips of the alpha EEG, each showing 5.4 s
const stripLeft = 81;
const pxPerSecond = 342.2;
const stripTop = 18;
const stripStep = 295;
const stripHeight = 196;

panelStarts.forEach((t0, i) => {
    let top = stripTop + i * stripStep;
    let bottom = top + stripHeight;
    let right = stripLeft + 5.4 * pxPerSecond;

    let xScale = d3.scaleLinear()
        .domain([t0 - 0.2, t0 + 5.2])
        .range([stripLeft, right]);
    let yScale = d3.scaleLinear()
        .domain([-294.5, 293.5])
        .range([bottom, top]);

    svg.append("clipPath")
        .attr("id", "clip" + i)
        .append("rect")
        .attr("x", stripLeft)
        .attr("y", top)
        .attr("width", right - stripLeft)
        .attr("height", stripHeight);

    let line = d3.line()
        .x(d => xScale(d[0]))
        .y(d => yScale(d[1]))
        .curve(d3.curveMonotoneX);

    svg.append("path")
        .datum(eeg.filter(d => d[0] >= t0 - 0.3 && d[0] <= t0 + 5.3))
        .attr("clip-path", `url(#clip${i})`)
        .attr("fill", "none")
        .attr("stroke", eegColour)
        .attr("stroke-width", 2)
        .attr("stroke-linejoin", "round")
        .attr("d", line);

    svg.append("rect")
        .attr("x", stripLeft)
        .attr("y", top)
        .attr("width", right - stripLeft)
        .attr("height", stripHeight)
        .attr("fill", "none")
        .attr("stroke", "black")
        .attr("stroke-width", 2);

    let axis = svg.append("g")
        .attr("transform", `translate(0,${bottom})`)
        .call(d3.axisBottom(xScale)
            .tickValues(panelTickOffsets.map(o => t0 + o))
            .tickFormat(d3.format(".1f"))
            .tickSize(12)
            .tickPadding(20));
    axis.select(".domain").remove();
    axis.selectAll("line").attr("stroke", "black").attr("stroke-width", 2);
    axis.selectAll("text")
        .style("font-family", axisFont)
        .style("font-size", "20px")
        .attr("fill", "black");
});

// caption, squeezed horizontally to the span it has in the reference
let caption = svg.append("text")
    .attr("x", 0)
    .attr("y", 0)
    .style("font-family", axisFont)
    .style("font-size", "64px")
    .attr("fill", "black");
caption.append("tspan").text("20s ");
caption.append("tspan").style("font-family", mathFont).style("font-style", "italic").text("α");
caption.append("tspan").text("-rhytmic EEG data, sampling rate 173.61 Hz, ");
caption.append("tspan").style("font-family", mathFont).text("Δ ≈ 5.76");
caption.append("tspan").style("font-family", mathFont).style("font-style", "italic").text("ms");
caption.append("tspan").text(" [1].");

let captionWidth = caption.node().getComputedTextLength();
caption.attr("transform", `translate(61,1236) scale(${1783 / captionWidth},1)`);

// lower plot: V(t)
const plotLeft = 139, plotRight = 1881, plotTop = 1322, plotBottom = 1532;

let vx = d3.scaleLinear().domain([-8, 208]).range([plotLeft, plotRight]);
let vy = d3.scaleLinear().domain([-1.62, 1.62]).range([plotBottom, plotTop]);

let vLine = d3.line()
    .x(d => vx(d[0]))
    .y(d => vy(d[1]));

svg.append("path")
    .datum(vTrace1.concat(vTrace2))
    .attr("fill", "none")
    .attr("stroke", traceColour)
    .attr("stroke-width", 2)
    .attr("stroke-linejoin", "round")
    .attr("d", vLine);

svg.append("rect")
    .attr("x", plotLeft)
    .attr("y", plotTop)
    .attr("width", plotRight - plotLeft)
    .attr("height", plotBottom - plotTop)
    .attr("fill", "none")
    .attr("stroke", "black")
    .attr("stroke-width", 2);

let xAxis = svg.append("g")
    .attr("transform", `translate(0,${plotBottom})`)
    .call(d3.axisBottom(vx).tickValues(vTicksX).tickSize(14).tickPadding(22));
xAxis.select(".domain").attr("stroke-width", 2).attr("d", `M${vx(0)},0H${vx(200)}`);
xAxis.selectAll("line").attr("stroke-width", 2);
xAxis.selectAll("text").style("font-family", axisFont).style("font-size", "22px");

let yAxis = svg.append("g")
    .attr("transform", `translate(${plotLeft},0)`)
    .call(d3.axisLeft(vy).tickValues(vTicksY).tickFormat(d3.format(".1f")).tickSize(14));
yAxis.select(".domain").attr("stroke-width", 2).attr("d", `M0,${vy(-1.5)}V${vy(1.5)}`);
yAxis.selectAll("line").attr("stroke-width", 2);
yAxis.selectAll("text")
    .attr("x", null).attr("dy", null)
    .attr("transform", "translate(-32,0) rotate(-90)")
    .attr("text-anchor", "middle")
    .style("font-family", axisFont)
    .style("font-size", "22px");

svg.append("text")
    .attr("transform", "translate(53,1428) rotate(-90)")
    .attr("text-anchor", "middle")
    .style("font-family", axisFont)
    .style("font-size", "34px")
    .text("V(t)");

svg.append("text")
    .attr("x", vx(100))
    .attr("y", 1636)
    .attr("text-anchor", "middle")
    .style("font-family", axisFont)
    .style("font-size", "30px")
    .text("t");

</script>
</body>
</html>
